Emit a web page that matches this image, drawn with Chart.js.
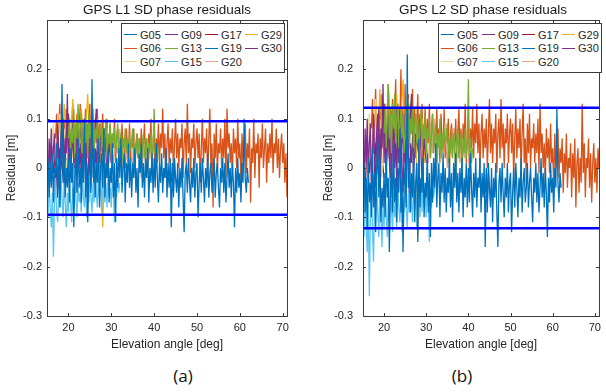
<!DOCTYPE html>
<html>
<head>
<meta charset="utf-8">
<script src="https://cdn.jsdelivr.net/npm/chart.js@4.4.1/dist/chart.umd.min.js"></script>
<style>
  body { margin: 0; background: #fff; }
  #wrap { position: relative; width: 606px; height: 392px; background: #fff; overflow: hidden; font-family: "Liberation Sans", Arial, sans-serif; color: #262626; }
  canvas { position: absolute; top: 0; }
  .title { position: absolute; top: 1px; font-size: 13.5px; text-align: center; line-height: 18px; color: #1a1a1a; }
  .caption { position: absolute; top: 364px; font-family: "Open Sans", sans-serif; font-size: 17px; width: 40px; text-align: center; color: #111; }
  .legend { position: absolute; top: 23px; width: 160px; height: 44px; border: 1px solid #3a3a3a; background: #fff;
            display: grid; grid-template-columns: 41px 40px 40px 39px; grid-auto-rows: 13.5px; padding: 4px 0 0 2px; box-sizing: content-box; }
  .legend div { display: flex; align-items: center; font-size: 11px; white-space: nowrap; }
  .legend span.ln { display: inline-block; width: 13px; height: 1.3px; margin-right: 3px; }
</style>
</head>
<body>
<div id="wrap">
  <canvas id="c1" width="303" height="356" style="left:0"></canvas>
  <canvas id="c2" width="289" height="356" style="left:317px"></canvas>
  <div class="title" style="left:47px;width:240px">GPS L1 SD phase residuals</div>
  <div class="title" style="left:363px;width:240px">GPS L2 SD phase residuals</div>
  <div class="legend" id="leg1" style="left:121px"></div>
  <div class="legend" id="leg2" style="left:438px"></div>
  <div class="caption" style="left:163px">(a)</div>
  <div class="caption" style="left:442px">(b)</div>
</div>
<script>
// elevation samples [deg], 0.25 deg grid
const elevation = [
  15,15.25,15.5,15.75,16,16.25,16.5,16.75,17,17.25,17.5,17.75,18,18.25,18.5,18.75,19,19.25,19.5,19.75,
  20,20.25,20.5,20.75,21,21.25,21.5,21.75,22,22.25,22.5,22.75,23,23.25,23.5,23.75,24,24.25,24.5,24.75,
  25,25.25,25.5,25.75,26,26.25,26.5,26.75,27,27.25,27.5,27.75,28,28.25,28.5,28.75,29,29.25,29.5,29.75,
  30,30.25,30.5,30.75,31,31.25,31.5,31.75,32,32.25,32.5,32.75,33,33.25,33.5,33.75,34,34.25,34.5,34.75,
  35,35.25,35.5,35.75,36,36.25,36.5,36.75,37,37.25,37.5,37.75,38,38.25,38.5,38.75,39,39.25,39.5,39.75,
  40,40.25,40.5,40.75,41,41.25,41.5,41.75,42,42.25,42.5,42.75,43,43.25,43.5,43.75,44,44.25,44.5,44.75,
  45,45.25,45.5,45.75,46,46.25,46.5,46.75,47,47.25,47.5,47.75,48,48.25,48.5,48.75,49,49.25,49.5,49.75,
  50,50.25,50.5,50.75,51,51.25,51.5,51.75,52,52.25,52.5,52.75,53,53.25,53.5,53.75,54,54.25,54.5,54.75,
  55,55.25,55.5,55.75,56,56.25,56.5,56.75,57,57.25,57.5,57.75,58,58.25,58.5,58.75,59,59.25,59.5,59.75,
  60,60.25,60.5,60.75,61,61.25,61.5,61.75,62,62.25,62.5,62.75,63,63.25,63.5,63.75,64,64.25,64.5,64.75,
  65,65.25,65.5,65.75,66,66.25,66.5,66.75,67,67.25,67.5,67.75,68,68.25,68.5,68.75,69,69.25,69.5,69.75,
  70,70.25,70.5,70.75,71];

const legendOrder = ["G05","G09","G17","G29","G06","G13","G19","G30","G07","G15","G20"];
const satColors = {G05:"#0072BD",G06:"#D95319",G07:"#F2D38F",G09:"#7E2F8E",G13:"#77AC30",G15:"#5CC4F0",
  G17:"#A2142F",G19:"#0072BD",G20:"#E4A98A",G29:"#EDB120",G30:"#7E2F8E"};
// first elevation of each arc, and its sample spacing in grid steps
const arcStart = {G05:15,G06:17,G07:16,G09:15,G13:20,G15:15,G17:15,G19:44,G20:30,G29:18,G30:18};
const arcStride = {G05:1,G06:1,G07:2,G09:1,G13:1,G15:1,G17:2,G19:1,G20:2,G29:2,G30:2};

const xTicks = [20,30,40,50,60,70];
const yTicks = [-0.3,-0.2,-0.1,0,0.1,0.2];
const xRange = [15,71];
const yRange = [-0.3,0.3];
const boundL1 = 0.095;
const boundL2 = 0.122;

// ---- L1 residuals [m]
const l1G06 = [
  0.06,0.11,0.02,0.09,0.13,0.04,0.08,0.00,0.10,0.05,0.12,0.03,0.07,0.10,0.01,0.08,0.13,0.04,0.09,0.06,
  0.11,0.02,0.08,0.13,0.05,0.10,0.01,0.07,0.12,0.04,0.09,0.06,0.13,0.02,0.08,0.11,0.03,0.10,0.05,0.12,
  0.04,0.09,0.01,0.07,0.11,0.03,0.08,0.05,0.10,0.00,0.06,0.09,0.02,0.07,0.04,0.10,0.01,0.06,0.08,0.03,
  0.07,0.02,0.09,0.04,0.06,0.00,0.08,0.05,0.03,0.09,0.01,0.06,0.04,0.08,-0.01,0.05,0.07,0.02,0.06,0.03,
  0.08,0.01,0.05,0.09,0.02,0.06,-0.01,0.07,0.04,0.10,0.00,0.05,0.08,-0.02,0.06,0.03,0.09,0.01,0.07,0.04,
  0.12,0.02,0.07,-0.02,0.05,0.09,0.01,0.06,0.03,0.08,-0.01,0.05,0.10,0.02,0.07,0.00,0.06,0.04,0.09,-0.02,
  0.05,0.08,0.01,0.13,0.03,0.07,-0.01,0.06,0.04,0.09,0.00,0.05,0.08,0.02,0.07,-0.03,0.04,0.10,0.01,0.06,
  0.03,0.08,-0.02,0.06,0.12,0.00,0.05,-0.08,0.07,0.02,0.09,-0.01,0.05,0.03,0.08,0.00,0.06,0.02,0.10,-0.02,
  0.12,0.04,0.07,0.01,0.05,-0.02,0.08,0.03,0.06,0.00,0.10,0.02,0.05,-0.03,0.07,0.01,0.04,0.09,-0.01,0.05,
  0.02,0.08,-0.07,0.04,0.01,0.10,-0.02,0.05,0.03,0.07,-0.04,0.06,0.02,0.09,0.00,0.04,0.08,-0.03,0.05,0.01,
  0.07,0.02,0.10,-0.01,0.05,0.03,0.08,0.00,0.06,-0.02,0.04,0.07,0.01,0.05,-0.03,0.03,-0.06];
const l1G05 = [
  -0.03,0.02,-0.06,0.01,-0.04,0.03,-0.07,0.00,-0.02,0.05,-0.05,0.02,-0.08,0.01,0.17,-0.03,0.03,-0.06,0.00,-0.04,
  0.02,-0.07,0.04,-0.03,0.01,-0.12,-0.02,0.03,-0.05,0.06,-0.04,0.00,-0.07,0.02,-0.03,0.10,-0.06,0.01,-0.11,-0.02,
  0.03,-0.05,0.18,-0.02,0.04,-0.06,0.01,-0.03,0.06,-0.08,0.00,0.03,-0.04,0.08,-0.06,0.01,-0.02,0.04,-0.07,0.00,
  -0.03,0.05,-0.06,0.01,-0.11,0.02,-0.04,0.04,-0.02,0.06,-0.05,0.00,0.03,-0.07,0.01,-0.03,0.05,-0.04,0.02,-0.06,
  0.01,-0.02,0.04,-0.05,0.00,-0.08,0.03,-0.01,0.05,-0.04,0.01,-0.06,0.02,-0.02,0.04,-0.07,0.00,-0.03,0.03,-0.05,
  0.02,-0.04,0.05,-0.02,-0.07,0.01,-0.03,0.03,-0.05,0.00,-0.02,0.04,-0.06,0.01,-0.04,0.02,-0.12,-0.01,-0.05,0.01];
const l1G19 = [
  -0.03,0.01,-0.06,0.02,-0.02,-0.05,0.01,-0.08,0.00,-0.04,0.02,-0.06,-0.13,-0.01,0.01,-0.05,0.02,-0.03,-0.07,0.00,
  -0.04,0.02,-0.06,-0.01,0.01,-0.10,-0.03,0.01,-0.05,0.02,-0.02,-0.07,0.00,-0.04,0.03,-0.06,-0.01,0.01,-0.05,-0.02,
  0.02,-0.06,-0.01,0.01,-0.04,-0.08,0.00,-0.03,0.02,-0.05,0.01,-0.07,-0.02,0.03,-0.04,0.00,-0.06,0.01,-0.03,-0.12,
  0.00,-0.05,0.02,-0.04,-0.01,-0.07,0.01,-0.03,0.10,-0.02,-0.05,0.00,-0.03];
const l1G15 = [
  -0.06,-0.10,-0.03,-0.08,-0.12,-0.05,-0.18,-0.07,-0.02,-0.09,-0.11,-0.04,-0.08,-0.01,-0.06,-0.10,-0.03,-0.07,-0.12,-0.05,
  -0.09,-0.02,-0.07,-0.11,-0.04,-0.08,0.00,-0.06,-0.10,-0.03,-0.07,-0.05,-0.09,-0.01,-0.06,-0.08,-0.03,-0.10,-0.04,-0.07,
  -0.02,-0.06,-0.09,-0.03,-0.07,0.01,-0.05,-0.08,-0.02,-0.06,-0.04,-0.09,0.00,-0.05,-0.07,-0.03,-0.08,-0.01,-0.06,-0.04,
  -0.08,-0.02,-0.05,-0.11,-0.03,-0.06,-0.01,-0.05,-0.03];
const l1G09 = [
  0.03,-0.03,0.06,0.00,0.08,-0.02,0.04,0.07,-0.04,0.02,0.09,0.01,-0.03,0.05,0.02,0.10,-0.01,0.06,0.03,0.15,
  0.00,0.07,-0.02,0.05,0.09,0.01,0.06,-0.05,0.04,0.08,0.00,0.05,-0.03,0.07,0.02,0.10,-0.02,0.04,0.06,0.01,
  0.05,-0.04,0.07,0.02,-0.06,0.04,0.01,0.05,0.02];
const l1G13 = [
  0.06,0.10,0.03,0.08,0.05,0.12,0.02,0.09,0.06,0.13,0.04,0.08,0.11,0.03,0.07,0.10,0.05,0.09,0.02,0.11,
  0.06,0.09,0.04,0.12,0.03,0.08,0.06,0.10,0.02,0.07,0.09,0.04,0.08,0.01,0.06,0.10,0.03,0.07,0.05,0.09,
  0.02,0.07,0.05,0.08,0.03,0.06,0.09,0.02,0.05,0.07,0.01,0.06,0.04,0.08,0.03,0.06,0.02,0.07,0.04,0.05,
  0.08,0.01,0.05,0.03,0.07,0.02,0.06,0.04,0.00,0.05,0.07,0.02,0.04,0.06,0.01,0.05,0.03,0.07,0.02,0.04,
  0.12,0.03,0.05,0.01,0.04];
const l1G30 = [0.03,0.09,-0.02,0.06,0.11,0.00,0.07,-0.03,0.08,0.04,0.10,0.01,0.06,-0.04,0.09,0.02,0.05,0.12,-0.01,0.06,
  0.03,0.08,-0.02,0.05,0.01];
const l1G29 = [0.10,0.04,0.13,0.06,0.11,0.02,0.14,0.07,0.09,0.03,0.12,0.05,0.08,0.15,0.03,0.10,0.06,0.11,0.02,0.09,
  -0.12,0.04,0.08,0.01,0.06];
const l1G07 = [0.04,0.09,0.01,0.07,0.11,0.03,0.08,-0.01,0.06,0.10,0.02,0.07,0.04,0.09,0.00,0.05,0.03];
const l1G17 = [0.02,-0.04,0.05,-0.01,0.03,-0.06,0.04,0.00,-0.03,0.02,-0.02];
const l1G20 = [0.05,0.01,0.07,0.03,0.08,-0.01,0.06,0.02,0.04,0.07,0.00,0.05,0.03,0.06,-0.02,0.04,0.01,0.05,0.02,0.06,0.03];

// ---- L2 residuals [m]
const l2G06 = [
  0.08,0.14,0.03,0.11,0.16,0.05,0.10,0.01,0.13,0.06,0.15,0.04,0.09,0.13,0.02,0.11,0.17,0.05,0.12,0.08,
  0.14,0.03,0.10,0.18,0.06,0.13,0.02,0.09,0.20,0.05,0.12,0.08,0.17,0.03,0.10,0.15,0.04,0.13,0.07,0.16,
  0.05,0.12,0.02,0.09,0.15,0.04,0.11,0.06,0.13,0.01,0.08,0.12,0.03,0.10,0.05,0.13,0.02,0.08,0.11,0.04,
  0.09,0.03,0.12,0.05,0.08,0.01,0.11,0.06,0.04,0.12,0.02,0.08,0.05,0.10,0.00,0.07,0.09,0.03,0.08,0.04,
  0.10,0.02,0.07,0.12,0.03,0.08,0.00,0.09,0.05,0.13,0.01,0.07,0.10,-0.01,0.08,0.04,0.12,0.02,0.09,0.05,
  0.13,0.03,0.09,0.00,0.07,0.11,0.02,0.08,0.04,0.10,0.00,0.07,0.14,0.03,0.09,0.01,0.08,0.05,0.11,-0.01,
  0.07,0.10,0.02,0.14,0.04,0.09,0.00,0.08,0.05,0.11,0.01,0.07,0.10,0.03,0.09,-0.02,0.06,0.12,0.02,0.08,
  0.04,0.10,-0.01,0.07,0.13,0.01,0.06,-0.03,0.09,0.03,0.11,0.00,0.06,0.04,0.09,0.01,0.07,0.03,0.10,-0.01,
  0.13,0.03,0.07,0.00,0.05,-0.03,0.08,0.02,0.06,-0.01,0.09,0.01,0.04,-0.04,0.07,0.00,0.03,0.08,-0.02,0.04,
  0.01,0.06,-0.05,0.03,-0.01,0.07,-0.04,0.02,0.00,0.05,-0.06,0.03,-0.02,0.06,-0.08,0.01,0.04,-0.05,0.02,-0.03,
  0.13,-0.01,0.05,-0.06,0.02,0.00,0.06,-0.04,0.03,-0.07,0.01,0.05,-0.03,0.02,-0.05,0.04,0.00];
const l2G05 = [
  -0.05,0.01,-0.09,-0.02,-0.12,0.02,-0.07,-0.03,-0.10,0.04,-0.08,-0.01,-0.13,0.00,0.06,-0.06,0.02,-0.11,-0.04,-0.08,
  -0.01,-0.10,0.03,-0.06,-0.02,-0.17,-0.05,0.01,-0.09,0.05,-0.07,-0.02,-0.11,0.00,-0.05,0.08,-0.09,-0.02,-0.17,-0.04,
  0.01,-0.08,0.23,-0.04,0.02,-0.09,-0.01,-0.06,0.04,-0.11,-0.03,0.01,-0.15,0.06,-0.08,-0.02,-0.05,0.02,-0.10,-0.03,
  -0.06,0.03,-0.09,-0.01,-0.14,0.01,-0.07,0.02,-0.04,0.05,-0.08,-0.02,0.01,-0.10,-0.01,-0.05,0.03,-0.07,0.00,-0.09,
  -0.02,-0.05,0.02,-0.08,-0.01,-0.11,0.01,-0.04,0.03,-0.07,-0.01,-0.09,0.00,-0.05,0.02,-0.10,-0.02,-0.06,0.01,-0.08,
  0.00,-0.07,0.03,-0.04,-0.10,-0.01,-0.06,0.02,-0.08,-0.02,-0.04,0.02,-0.09,-0.01,-0.06,0.01,-0.16,-0.03,-0.07,-0.01];
const l2G19 = [
  -0.05,0.00,-0.09,0.01,-0.04,-0.08,0.00,-0.11,-0.02,-0.06,0.01,-0.09,-0.16,-0.03,0.00,-0.07,0.01,-0.05,-0.10,-0.02,
  -0.06,0.01,-0.09,-0.03,-0.01,-0.13,-0.05,0.00,-0.08,0.01,-0.04,-0.10,-0.02,-0.06,0.02,-0.09,-0.03,0.00,-0.07,-0.04,
  0.01,-0.08,-0.03,0.00,-0.06,-0.11,-0.02,-0.05,0.01,-0.07,-0.01,-0.09,-0.04,0.02,-0.06,-0.01,-0.08,0.00,-0.05,-0.14,
  -0.02,-0.07,0.01,-0.05,-0.02,-0.09,0.00,-0.04,0.12,-0.03,-0.07,-0.01,-0.04];
const l2G15 = [
  -0.09,-0.14,-0.05,-0.11,-0.17,-0.07,-0.26,-0.10,-0.04,-0.13,-0.19,-0.06,-0.11,-0.03,-0.09,-0.14,-0.05,-0.10,-0.16,-0.07,
  -0.12,-0.04,-0.09,-0.14,-0.06,-0.11,-0.02,-0.08,-0.13,-0.05,-0.10,-0.07,-0.12,-0.03,-0.08,-0.11,-0.05,-0.13,-0.06,-0.09,
  -0.04,-0.08,-0.12,-0.05,-0.09,-0.01,-0.07,-0.11,-0.03,-0.08,-0.06,-0.12,-0.02,-0.07,-0.10,-0.04,-0.09,-0.02,-0.08,-0.05,
  -0.10,-0.03,-0.07,-0.15,-0.04,-0.08,-0.02,-0.06,-0.04];
const l2G09 = [
  0.04,-0.03,0.08,0.01,0.10,-0.02,0.05,0.09,-0.05,0.03,0.11,0.01,-0.04,0.07,0.02,0.12,-0.01,0.08,0.04,0.17,
  0.01,0.09,-0.02,0.06,0.11,0.02,0.08,-0.06,0.05,0.10,0.00,0.07,-0.04,0.09,0.03,0.12,-0.02,0.05,0.08,0.01,
  0.06,-0.05,0.09,0.02,-0.07,0.05,0.01,0.06,0.03];
const l2G13 = [
  0.07,0.12,0.04,0.10,0.17,0.06,0.11,0.03,0.13,0.08,0.15,0.05,0.10,0.13,0.04,0.09,0.12,0.06,0.11,0.03,
  0.08,0.12,0.05,0.14,0.04,0.10,0.07,0.12,0.03,0.09,0.11,0.05,0.10,0.02,0.08,0.12,0.04,0.09,0.06,0.11,
  0.03,0.08,0.06,0.10,0.02,0.07,0.11,0.03,0.06,0.09,0.01,0.07,0.04,0.10,0.02,0.07,0.03,0.08,0.05,0.06,
  0.09,0.01,0.06,0.03,0.08,0.02,0.07,0.04,-0.01,0.06,0.08,0.02,0.05,0.07,0.00,0.06,0.03,0.08,0.02,0.05,
  0.18,0.02,0.06,0.01,0.04];
const l2G30 = [0.04,0.11,-0.02,0.07,0.13,0.00,0.08,-0.04,0.10,0.05,0.12,0.01,0.07,-0.05,0.11,0.02,0.06,0.15,-0.01,0.07,
  0.04,0.10,-0.03,0.06,0.01];
const l2G29 = [0.12,0.05,0.16,0.07,0.13,0.02,0.17,0.08,0.11,0.03,0.15,0.06,0.10,0.18,0.03,0.12,0.07,0.14,0.02,0.11,
  -0.14,0.05,0.10,0.01,0.07];
const l2G07 = [0.05,0.11,0.01,0.09,0.14,0.03,0.10,-0.01,0.07,0.13,0.02,0.08,0.05,0.11,0.00,0.06,0.03];
const l2G17 = [0.03,-0.05,0.06,-0.01,0.04,-0.07,0.05,0.00,-0.04,0.02,-0.02];
const l2G20 = [0.06,0.01,0.09,0.03,0.10,-0.01,0.07,0.02,0.05,0.09,0.00,0.06,0.03,0.08,-0.02,0.05,0.01,0.06,0.02,0.07,0.03];

const l1 = {G05:l1G05,G06:l1G06,G07:l1G07,G09:l1G09,G13:l1G13,G15:l1G15,G17:l1G17,G19:l1G19,G20:l1G20,G29:l1G29,G30:l1G30};
const l2 = {G05:l2G05,G06:l2G06,G07:l2G07,G09:l2G09,G13:l2G13,G15:l2G15,G17:l2G17,G19:l2G19,G20:l2G20,G29:l2G29,G30:l2G30};

// first dataset is drawn on top in Chart.js
const drawOrder = ["G19","G05","G15","G13","G30","G09","G29","G07","G17","G20","G06"];

function arcPoints(sat, values) {
  const i0 = elevation.indexOf(arcStart[sat]);
  return values.map((v, i) => ({ x: elevation[i0 + i * arcStride[sat]], y: v }));
}

// box + inward ticks like matlab axes
const framePlugin = {
  id: "frame",
  afterDatasetsDraw(chart) {
    const { ctx, chartArea: a, scales } = chart;
    ctx.save();
    ctx.strokeStyle = "#3c3c3c";
    ctx.lineWidth = 1;
    ctx.strokeRect(Math.round(a.left) + 0.5, Math.round(a.top) + 0.5, Math.round(a.width), Math.round(a.height));
    ctx.beginPath();
    xTicks.forEach(v => {
      const px = Math.round(scales.x.getPixelForValue(v)) + 0.5;
      ctx.moveTo(px, a.bottom); ctx.lineTo(px, a.bottom - 3);
      ctx.moveTo(px, a.top); ctx.lineTo(px, a.top + 3);
    });
    yTicks.forEach(v => {
      const py = Math.round(scales.y.getPixelForValue(v)) + 0.5;
      ctx.moveTo(a.left, py); ctx.lineTo(a.left + 3, py);
      ctx.moveTo(a.right, py); ctx.lineTo(a.right - 3, py);
    });
    ctx.stroke();
    ctx.restore();
  }
};

function makePanel(id, res, bound, yAxisWidth, labelPad, padRight) {
  const datasets = [
    { label: "upper", data: [{ x: xRange[0], y: bound }, { x: xRange[1], y: bound }], borderColor: "#0000FF", borderWidth: 2.5 },
    { label: "lower", data: [{ x: xRange[0], y: -bound }, { x: xRange[1], y: -bound }], borderColor: "#0000FF", borderWidth: 2.5 }
  ];
  drawOrder.forEach(s => {
    datasets.push({ label: s, data: arcPoints(s, res[s]), borderColor: satColors[s], borderWidth: 1.3 });
  });
  const tickFont = { family: "'Liberation Sans', Arial, sans-serif", size: 11 };
  const titleFont = { family: "'Liberation Sans', Arial, sans-serif", size: 12 };
  return new Chart(document.getElementById(id), {
    type: "line",
    data: { datasets },
    options: {
      responsive: false,
      animation: false,
      events: [],
      layout: { padding: { left: 0, top: 20, right: padRight, bottom: 0 } },
      elements: { point: { radius: 0 }, line: { tension: 0 } },
      plugins: { legend: { display: false }, tooltip: { enabled: false } },
      scales: {
        x: {
          type: "linear", min: xRange[0], max: xRange[1],
          grid: { display: false, drawTicks: false }, border: { display: false },
          afterBuildTicks: s => { s.ticks = xTicks.map(v => ({ value: v })); },
          afterFit: s => { s.height = 40; },
          ticks: { font: tickFont, color: "#262626", padding: 5, maxRotation: 0 },
          title: { display: true, text: "Elevation angle [deg]", font: titleFont, color: "#262626" }
        },
        y: {
          type: "linear", min: yRange[0], max: yRange[1],
          grid: { display: false, drawTicks: false }, border: { display: false },
          afterBuildTicks: s => { s.ticks = yTicks.map(v => ({ value: v })); },
          afterFit: s => { s.width = yAxisWidth; },
          ticks: { font: tickFont, color: "#262626", padding: labelPad,
                   callback: v => (Math.abs(v) < 1e-9 ? "0" : v.toFixed(1)) },
          title: { display: true, text: "Residual [m]", font: titleFont, color: "#262626" }
        }
      }
    },
    plugins: [framePlugin]
  });
}

makePanel("c1", l1, boundL1, 47, 5, 16);
makePanel("c2", l2, boundL2, 46, 10, 3);

function buildLegend(id) {
  const box = document.getElementById(id);
  legendOrder.forEach(s => {
    const item = document.createElement("div");
    const ln = document.createElement("span");
    ln.className = "ln";
    ln.style.background = satColors[s];
    item.appendChild(ln);
    item.appendChild(document.createTextNode(s));
    box.appendChild(item);
  });
}
buildLegend("leg1");
buildLegend("leg2");
</script>
</body>
</html>
